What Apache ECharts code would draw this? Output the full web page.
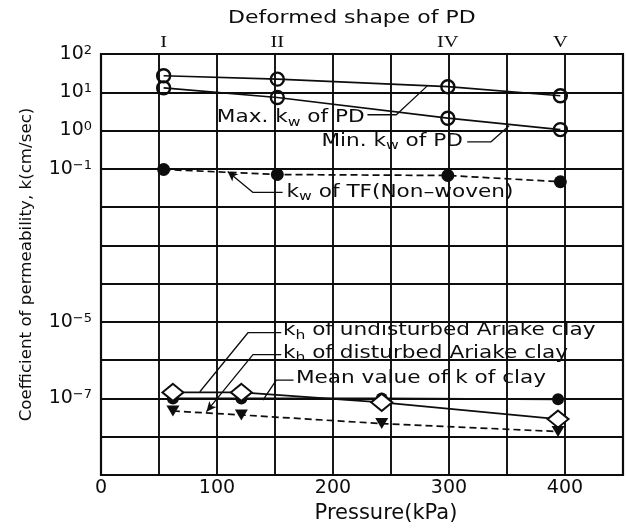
<!DOCTYPE html>
<html>
<head>
<meta charset="utf-8">
<script src="https://cdn.jsdelivr.net/npm/echarts@6/dist/echarts.min.js"></script>
<style>
html,body{margin:0;padding:0;background:#fff;}
#chart{width:626px;height:529px;}
</style>
</head>
<body>
<div id="chart"></div>
<script>
// data
var pdPressure = [54, 152, 299, 396];
var stageLabels = ['I', 'II', 'IV', 'V'];
var maxKwPD = [27, 22, 14, 8.1];
var minKwPD = [13, 7.3, 2.1, 1.06];
var kwTF = [0.096, 0.071, 0.067, 0.046];
var clayPressure = [62, 121, 242, 394];
var kMeanClay = [1.0e-7, 1.0e-7, 1.0e-7, 0.95e-7];
var khUndisturbed = [1.44e-7, 1.44e-7, 7.9e-8, 2.9e-8];
var khDisturbed = [4.7e-8, 3.7e-8, 2.2e-8, 1.37e-8];
var xTickLabels = [0, 100, 200, 300, 400];
var yLabelExps = [2, 1, 0, -1, -5, -7];

var FONT = 'DejaVu Sans';
var INK = '#0d0d0d';

// leader lines / labels (data coordinates)
var notes = [
  {text:'{n|Max. k}{s|w}{n| of PD}', at:[99.8, 2.16], leader:[[229.7, 2.59], [254.6, 2.59], [281.3, 14.7]]},
  {text:'{n|Min. k}{s|w}{n| of PD}', at:[190, 0.53], leader:[[315.7, 0.505], [336, 0.505], [351.8, 1.34]]},
  {text:'{n|k}{s|w}{n| of TF(Non–woven)}', at:[160, 0.0243], leader:[[156.6, 0.0243], [130.8, 0.0243], [109.2, 0.0853]], arrow:50},
  {text:'{n|k}{s|h}{n| of undisturbed Ariake clay}', at:[156.8, 5.9e-6], leader:[[155.4, 5.22e-6], [126.7, 5.22e-6], [85.2, 1.5e-7]]},
  {text:'{n|k}{s|h}{n| of disturbed Ariake clay}', at:[156.8, 1.49e-6], leader:[[155.4, 1.4e-6], [131, 1.4e-6], [90.9, 4.52e-8]], arrow:140},
  {text:'{n|Mean value of k of clay}', at:[168, 3.33e-7], leader:[[166, 3.0e-7], [151.1, 3.0e-7], [139.6, 9.06e-8]]}
];

function pairs(xs, ys){
  var out = [];
  for (var i = 0; i < xs.length; i++) out.push([xs[i], ys[i]]);
  return out;
}

function supLabel(v){
  var e = Math.round(Math.log10(v));
  if (yLabelExps.indexOf(e) < 0) return '';
  return '{b|10}{s|' + (e < 0 ? '\u2212' + (-e) : e) + '}';
}

function leaderSeries(note){
  var pts = note.leader;
  var data = pts.map(function(p, i){
    if (note.arrow != null && i == pts.length - 1) {
      return {value:p, symbol:'arrow', symbolSize:[7, 10], symbolRotate:note.arrow};
    }
    return {value:p, symbol:'none'};
  });
  return {type:'line', data:data, silent:true, z:1,
    lineStyle:{color:INK, width:1.3}, itemStyle:{color:INK}};
}

var chart = echarts.init(document.getElementById('chart'));

var series = notes.map(leaderSeries);
series.push(
  {type:'line', data:pairs(pdPressure, maxKwPD), symbol:'circle', symbolSize:13,
    lineStyle:{color:INK, width:1.7}, itemStyle:{color:'rgba(0,0,0,0)', borderColor:INK, borderWidth:2.4}},
  {type:'line', data:pairs(pdPressure, minKwPD), symbol:'circle', symbolSize:13,
    lineStyle:{color:INK, width:1.7}, itemStyle:{color:'rgba(0,0,0,0)', borderColor:INK, borderWidth:2.4}},
  {type:'line', data:pairs(pdPressure, kwTF), symbol:'circle', symbolSize:13,
    lineStyle:{color:INK, width:1.7, type:[7, 4]}, itemStyle:{color:INK}},
  {type:'line', data:pairs(clayPressure, kMeanClay), symbol:'circle', symbolSize:12,
    lineStyle:{color:INK, width:1.7}, itemStyle:{color:INK}},
  {type:'line', data:pairs(clayPressure, khUndisturbed), symbol:'diamond', symbolSize:[21, 17],
    lineStyle:{color:INK, width:1.7}, itemStyle:{color:'#fff', borderColor:INK, borderWidth:2}},
  {type:'line', data:pairs(clayPressure, khDisturbed), symbol:'triangle', symbolRotate:180, symbolSize:[13, 11],
    lineStyle:{color:INK, width:1.7, type:[7, 4]}, itemStyle:{color:INK}}
);

chart.setOption({
  animation:false,
  grid:{left:101, right:1, top:54, bottom:52, show:true, borderColor:INK, borderWidth:2.2},
  xAxis:{
    type:'value', min:0, max:450, interval:50,
    axisLine:{show:false}, axisTick:{show:false},
    splitLine:{show:true, lineStyle:{color:INK, width:1.9}},
    axisLabel:{
      formatter:function(v){ return xTickLabels.indexOf(v) >= 0 ? String(v) : ''; },
      fontFamily:FONT, fontSize:19, color:INK, margin:4
    },
    name:'Pressure(kPa)', nameLocation:'middle', nameGap:28,
    nameTextStyle:{fontFamily:FONT, fontSize:21, color:INK, padding:[0, 0, 0, 48]}
  },
  yAxis:{
    type:'log', logBase:10, min:1e-9, max:100, interval:1,
    axisLine:{show:false}, axisTick:{show:false},
    splitLine:{show:true, lineStyle:{color:INK, width:1.9}},
    axisLabel:{
      formatter:supLabel, margin:9,
      rich:{
        b:{fontFamily:FONT, fontSize:19, color:INK, lineHeight:20},
        s:{fontFamily:FONT, fontSize:13, color:INK, lineHeight:13, verticalAlign:'top'}
      }
    },
    name:'Coefficient of permeability, k(cm/sec)', nameLocation:'middle', nameGap:66,
    nameTextStyle:{fontFamily:FONT, fontSize:16.7, color:INK}
  },
  series:series
});

// text annotations placed through the axes
function px(p){ return chart.convertToPixel({gridIndex:0}, p); }

var noteRich = {
  n:{fontFamily:FONT, fontSize:18, lineHeight:22, fill:INK},
  s:{fontFamily:FONT, fontSize:13, lineHeight:13, fill:INK, verticalAlign:'bottom'}
};

var graphics = notes.map(function(note){
  var p = px(note.at);
  return {type:'text', x:p[0], y:p[1], scaleX:1.2, silent:true,
    style:{text:note.text, rich:noteRich, align:'left', verticalAlign:'middle', fill:INK}};
});

stageLabels.forEach(function(s, i){
  var p = px([pdPressure[i], 100]);
  graphics.push({type:'text', x:p[0], y:p[1] - 11, scaleX:1.2, silent:true,
    style:{text:s, fontFamily:'Liberation Serif', fontSize:17, fill:INK, align:'center', verticalAlign:'middle'}});
});

graphics.push({type:'text', x:228, y:18, scaleX:1.22, silent:true,
  style:{text:'Deformed shape of PD', fontFamily:FONT, fontSize:18, fill:INK, align:'left', verticalAlign:'middle'}});

chart.setOption({graphic:graphics});
</script>
</body>
</html>
